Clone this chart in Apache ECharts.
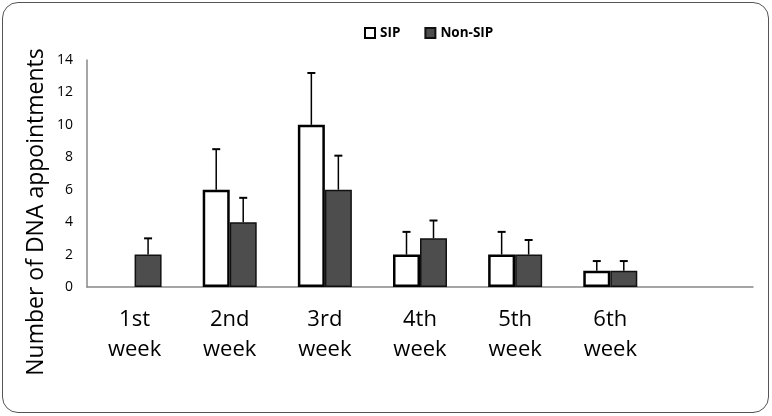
<!DOCTYPE html>
<html><head><meta charset="utf-8">
<script src="https://cdn.jsdelivr.net/npm/echarts@6/dist/echarts.min.js"></script>
<style>html,body{margin:0;padding:0;background:#fff}#c{width:772px;height:416px}
#frame{position:absolute;left:2px;top:2px;width:767px;height:411px;border:1.5px solid #555;border-radius:16px;pointer-events:none;box-sizing:border-box}</style>
</head><body>
<div id="c"></div><div id="frame"></div>
<script>
const categories = ['1st\nweek','2nd\nweek','3rd\nweek','4th\nweek','5th\nweek','6th\nweek',''];
const sipValues = [0, 6, 10, 2, 2, 1];
const nonSipValues = [2, 4, 6, 3, 2, 1];
const sipErr = [0, 2.5, 3.2, 1.4, 1.4, 0.6];
const nonSipErr = [1, 1.5, 2.1, 1.1, 0.9, 0.6];
const yTicks = [0, 2, 4, 6, 8, 10, 12, 14];
const yTitle = 'Number of DNA appointments';

const BW = 27;
function errItem(vals, errs, side) {
  return function (params, api) {
    const i = api.value(0);
    const v = vals[i], e = errs[i];
    if (!e) return;
    const p0 = api.coord([i, v]);
    const p1 = api.coord([i, v + e]);
    const x = p0[0] + side * BW / 2;
    return {
      type: 'group',
      children: [
        {type: 'line', shape: {x1: x, y1: p0[1], x2: x, y2: p1[1]}, style: {stroke: '#000', lineWidth: 1.5}},
        {type: 'line', shape: {x1: x - 4, y1: p1[1], x2: x + 4, y2: p1[1]}, style: {stroke: '#000', lineWidth: 2}}
      ]
    };
  };
}
const chart = echarts.init(document.getElementById('c'));
chart.setOption({
  animation: false,
  textStyle: {fontFamily: 'Open Sans'},
  legend: {
    top: 21, left: 359, itemWidth: 10, itemHeight: 10, itemGap: 24,
    data: ['SIP', 'Non-SIP'],
    textStyle: {fontFamily: 'Open Sans', fontWeight: 'bold', fontSize: 13.5, color: '#000'},
    icon: 'rect'
  },
  graphic: [{
    type: 'text', x: 36, y: 212, rotation: Math.PI / 2,
    style: {text: yTitle, fontSize: 23, fontFamily: 'Open Sans', fill: '#000', align: 'center', verticalAlign: 'middle'},
    originX: 0, originY: 0
  }],
  grid: {left: 87, right: 19, top: 60, bottom: 129},
  xAxis: {
    type: 'category', data: categories,
    axisLine: {lineStyle: {color: '#888', width: 1.5}},
    axisTick: {show: false},
    axisLabel: {fontSize: 22, color: '#000', lineHeight: 30, margin: 18, interval: 0, fontFamily: 'Open Sans'}
  },
  yAxis: {
    type: 'value', min: 0, max: 14, interval: 2,
    axisLine: {show: true, lineStyle: {color: '#888', width: 1.5}},
    axisTick: {show: false},
    splitLine: {show: false},
    axisLabel: {fontSize: 14, color: '#000', margin: 14,
      formatter: v => yTicks.includes(v) ? String(v) : ''}
  },
  series: [
    {name: 'SIP', type: 'bar', barWidth: BW, barGap: '0%',
     data: sipValues.map(v => v === 0 ? {value: v, itemStyle: {borderWidth: 0}} : v),
     itemStyle: {color: '#fff', borderColor: '#000', borderWidth: 2.5}},
    {name: 'Non-SIP', type: 'bar', data: nonSipValues, barWidth: BW,
     itemStyle: {color: '#4d4d4d', borderColor: '#111', borderWidth: 1.5}},
    {type: 'custom', renderItem: errItem(sipValues, sipErr, -1), data: sipValues.map((v, i) => [i, v]), z: 5},
    {type: 'custom', renderItem: errItem(nonSipValues, nonSipErr, 1), data: nonSipValues.map((v, i) => [i, v]), z: 5}
  ]
});
</script>
</body></html>
